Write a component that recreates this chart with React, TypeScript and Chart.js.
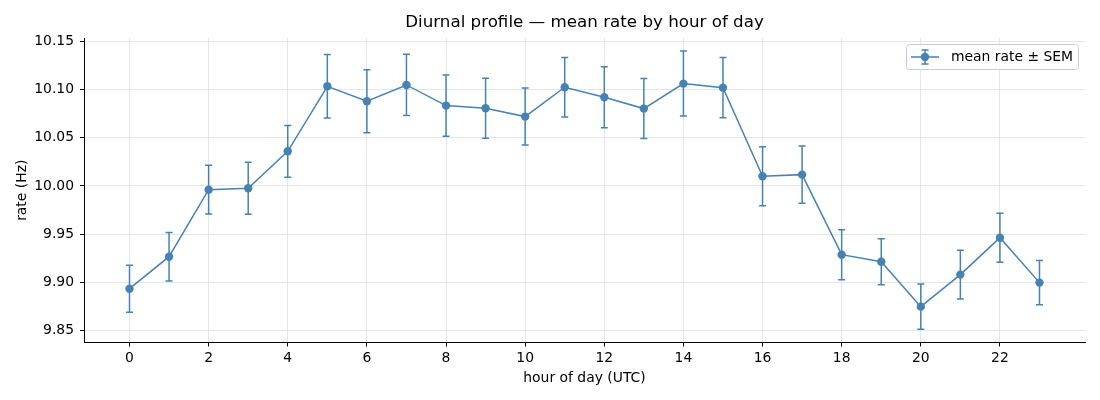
import React, { useEffect, useRef } from 'react';
import { Chart, registerables, Plugin } from 'chart.js';

Chart.register(...registerables);

const hours = [0, 1, 2, 3, 4, 5, 6, 7, 8, 9, 10, 11, 12, 13, 14, 15, 16, 17, 18, 19, 20, 21, 22, 23];
const meanRate = [
  9.8934, 9.9266, 9.9961, 9.9975, 10.0359, 10.1033, 10.0878, 10.1047, 10.0833, 10.0805, 10.0719, 10.1023,
  10.0919, 10.0802, 10.1061, 10.1019, 10.01, 10.0117, 9.9287, 9.9214, 9.8748, 9.908, 9.9463, 9.8997,
];
const sem = [
  0.0244, 0.0252, 0.0253, 0.0270, 0.0268, 0.0329, 0.0327, 0.0318, 0.0318, 0.0311, 0.0296, 0.0308,
  0.0317, 0.0311, 0.0337, 0.0313, 0.0306, 0.0296, 0.0259, 0.0239, 0.0234, 0.0253, 0.0254, 0.0229,
];
const xTicks = [0, 2, 4, 6, 8, 10, 12, 14, 16, 18, 20, 22];
const yTicks = [9.85, 9.9, 9.95, 10.0, 10.05, 10.1, 10.15];

const COLOR = '#4682b4';
const FONT = '"DejaVu Sans", sans-serif';

// error bars, title and legend drawn on top of the chart
const extras: Plugin = {
  id: 'extras',
  afterDatasetsDraw(chart) {
    const { ctx, scales } = chart;
    const xs = scales.x;
    const ys = scales.y;
    ctx.save();
    ctx.strokeStyle = COLOR;
    ctx.lineWidth = 1.5;
    hours.forEach((h, i) => {
      const px = xs.getPixelForValue(h);
      const top = ys.getPixelForValue(meanRate[i] + sem[i]);
      const bot = ys.getPixelForValue(meanRate[i] - sem[i]);
      ctx.beginPath();
      ctx.moveTo(px, top);
      ctx.lineTo(px, bot);
      ctx.moveTo(px - 3.5, top);
      ctx.lineTo(px + 3.5, top);
      ctx.moveTo(px - 3.5, bot);
      ctx.lineTo(px + 3.5, bot);
      ctx.stroke();
    });
    ctx.restore();
  },
  afterDraw(chart) {
    const { ctx, chartArea } = chart;
    ctx.save();
    // title
    ctx.fillStyle = '#000';
    ctx.font = `16.7px ${FONT}`;
    ctx.textAlign = 'center';
    ctx.textBaseline = 'middle';
    ctx.fillText('Diurnal profile \u2014 mean rate by hour of day', (chartArea.left + chartArea.right) / 2, 23);

    // legend
    const bx = 906.5, by = 44.5, bw = 172, bh = 25;
    ctx.beginPath();
    ctx.roundRect(bx, by, bw, bh, 3);
    ctx.fillStyle = 'rgba(255,255,255,0.8)';
    ctx.fill();
    ctx.strokeStyle = '#cccccc';
    ctx.lineWidth = 1;
    ctx.stroke();
    const cy = by + bh / 2;
    ctx.strokeStyle = COLOR;
    ctx.lineWidth = 1.5;
    ctx.beginPath();
    ctx.moveTo(911, cy);
    ctx.lineTo(939, cy);
    ctx.moveTo(925, cy - 7);
    ctx.lineTo(925, cy + 7);
    ctx.moveTo(921.5, cy - 7);
    ctx.lineTo(928.5, cy - 7);
    ctx.moveTo(921.5, cy + 7);
    ctx.lineTo(928.5, cy + 7);
    ctx.stroke();
    ctx.beginPath();
    ctx.arc(925, cy, 4.2, 0, Math.PI * 2);
    ctx.fillStyle = COLOR;
    ctx.fill();
    ctx.fillStyle = '#000';
    ctx.font = `13.9px ${FONT}`;
    ctx.textAlign = 'left';
    ctx.fillText('mean rate \u00b1 SEM', 951, cy);
    ctx.restore();
  },
};

const App: React.FC = () => {
  const canvasRef = useRef<HTMLCanvasElement | null>(null);
  const chartRef = useRef<Chart | null>(null);

  useEffect(() => {
    if (!canvasRef.current) return;
    if (chartRef.current) chartRef.current.destroy();

    chartRef.current = new Chart(canvasRef.current, {
      type: 'line',
      data: {
        datasets: [
          {
            label: 'mean rate \u00b1 SEM',
            data: hours.map((h, i) => ({ x: h, y: meanRate[i] })),
            borderColor: COLOR,
            backgroundColor: COLOR,
            borderWidth: 1.5,
            pointRadius: 4.2,
            pointBorderWidth: 0,
            pointBackgroundColor: COLOR,
            tension: 0,
          },
        ],
      },
      options: {
        responsive: false,
        animation: false,
        events: [],
        layout: { padding: { left: 0, right: 15, top: 38, bottom: 0 } },
        plugins: {
          legend: { display: false },
          tooltip: { enabled: false },
        },
        scales: {
          x: {
            type: 'linear',
            min: -1.15,
            max: 24.15,
            afterFit: (s) => {
              s.height = 57.5;
            },
            afterBuildTicks: (s) => {
              s.ticks = xTicks.map((v) => ({ value: v }));
            },
            grid: { color: '#e6e6e6', lineWidth: 1, tickColor: '#000', tickLength: 4, tickWidth: 1 },
            border: { color: '#000', width: 1 },
            ticks: { color: '#000', font: { family: FONT, size: 13.9 }, padding: 4, maxRotation: 0 },
            title: {
              display: true,
              text: 'hour of day (UTC)',
              color: '#000',
              font: { family: FONT, size: 13.9 },
              padding: { top: 0, bottom: 13 },
            },
          },
          y: {
            type: 'linear',
            min: 9.8376,
            max: 10.1534,
            afterFit: (s) => {
              s.width = 84;
            },
            afterBuildTicks: (s) => {
              s.ticks = yTicks.map((v) => ({ value: v }));
            },
            grid: { color: '#e6e6e6', lineWidth: 1, tickColor: '#000', tickLength: 4, tickWidth: 1 },
            border: { color: '#000', width: 1 },
            ticks: {
              color: '#000',
              font: { family: FONT, size: 13.9 },
              padding: 6,
              callback: (v) => Number(v).toFixed(2),
            },
            title: {
              display: true,
              text: 'rate (Hz)',
              color: '#000',
              font: { family: FONT, size: 13.9 },
              padding: { top: 14, bottom: 0 },
            },
          },
        },
      },
      plugins: [extras],
    });

    return () => {
      if (chartRef.current) {
        chartRef.current.destroy();
        chartRef.current = null;
      }
    };
  }, []);

  return (
    <div style={{ position: 'absolute', left: 0, top: 0, width: 1100, height: 400, background: '#fff' }}>
      <canvas ref={canvasRef} width={1100} height={400} />
    </div>
  );
};

export default App;
